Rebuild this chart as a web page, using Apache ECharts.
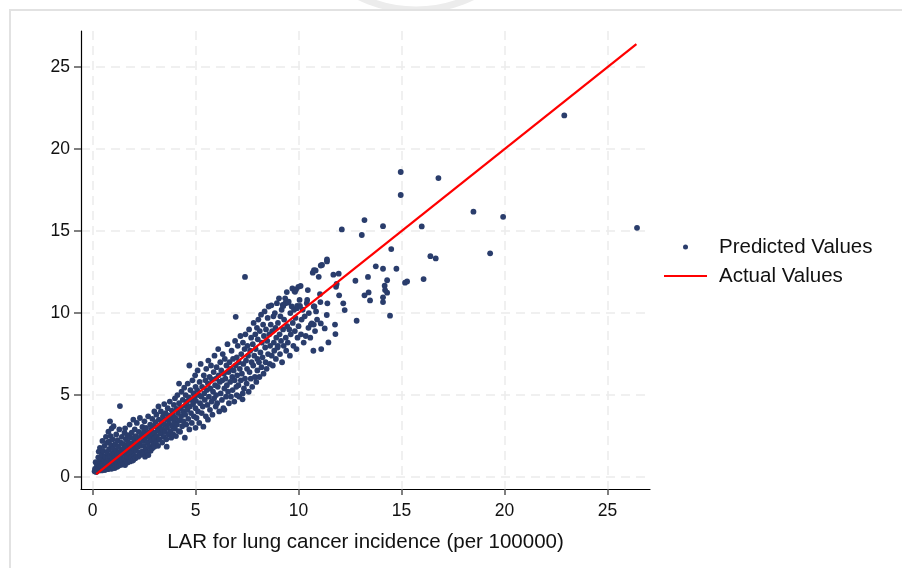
<!DOCTYPE html>
<html>
<head>
<meta charset="utf-8">
<script src="https://cdn.jsdelivr.net/npm/echarts@6/dist/echarts.min.js"></script>
<style>
html,body{margin:0;padding:0;background:#fff;}
#chart{width:902px;height:568px;}
</style>
</head>
<body>
<div id="chart"></div>
<script>
// ---- data ----
var xTickValues = [0, 5, 10, 15, 20, 25];
var yTickValues = [0, 5, 10, 15, 20, 25];
var xAxisTitle = 'LAR for lung cancer incidence (per 100000)';
var seriesNames = ['Predicted Values', 'Actual Values'];

// Predicted values: [actual LAR, predicted LAR]
var predicted0to2 = [
[0.1,0.35],[0.12,0.5],[0.15,0.9],[0.18,0.3],[0.2,0.62],[0.22,0.45],[0.25,0.75],[0.25,0.38],[0.28,1.2],[0.3,0.5],[0.3,1.55],[0.32,0.4],[0.35,0.7],[0.36,1.78],[0.38,0.95],[0.4,0.45],[0.4,1.1],[0.42,0.6],[0.45,1.35],[0.45,0.4],[0.48,2.2],[0.5,0.8],[0.5,0.48],[0.52,1.6],[0.55,0.55],[0.55,1.0],[0.58,1.9],[0.6,0.43],[0.6,0.7],[0.62,1.25],[0.65,2.45],[0.65,0.5],[0.68,0.9],[0.7,1.5],[0.7,0.6],[0.72,2.1],[0.75,0.48],[0.75,1.15],[0.77,2.76],[0.78,0.75],[0.8,1.7],[0.8,2.15],[0.82,0.55],[0.85,3.4],[0.85,1.3],[0.86,0.62],[0.88,2.5],[0.9,0.95],[0.9,1.95],[0.92,0.5],[0.93,2.97],[0.95,1.45],[0.96,0.7],[0.98,2.3],[1.0,0.58],[1.0,1.1],[1.0,1.75],
[1.02,3.1],[1.05,0.8],[1.05,1.4],[1.08,0.55],[1.1,2.0],[1.1,1.2],[1.12,0.65],[1.15,2.6],[1.15,1.6],[1.18,0.9],[1.2,1.35],[1.2,0.62],[1.22,2.25],[1.25,1.05],[1.25,1.85],[1.28,0.7],[1.3,2.9],[1.3,1.5],[1.33,4.33],[1.35,0.85],[1.35,1.2],[1.38,2.1],[1.4,0.75],[1.4,1.65],[1.42,2.45],[1.45,1.0],[1.48,1.4],[1.5,0.8],[1.5,2.0],[1.52,1.75],[1.55,2.7],[1.55,1.1],[1.58,2.97],[1.58,0.73],[1.6,1.5],[1.62,2.3],[1.65,0.95],[1.65,1.9],[1.68,1.25],[1.7,2.55],[1.7,0.88],[1.72,1.6],[1.75,2.1],[1.78,1.05],[1.8,1.4],[1.8,3.2],[1.82,0.95],[1.85,1.8],[1.85,2.4],[1.88,1.2],[1.9,2.7],[1.9,1.55],[1.92,1.0],[1.95,2.05],[1.98,1.04],[1.98,3.5],[2.0,1.7],[2.0,2.35]
];
var predicted2to5 = [
[2.02,1.3],[2.05,2.9],[2.05,1.95],[2.08,1.15],[2.1,2.5],[2.12,1.6],[2.15,3.3],[2.15,1.25],[2.18,2.2],[2.2,1.85],[2.22,1.24],[2.25,2.75],[2.25,2.05],[2.28,1.5],[2.3,3.6],[2.3,2.4],[2.32,1.35],[2.35,1.9],[2.38,2.6],[2.4,1.55],[2.42,3.05],[2.45,2.2],[2.48,1.4],[2.5,2.8],[2.5,1.9],[2.52,3.4],[2.55,1.24],[2.55,2.35],[2.58,1.7],[2.6,3.0],[2.62,2.55],[2.65,1.5],[2.68,2.1],[2.7,3.7],[2.71,1.34],[2.72,2.7],[2.75,1.85],[2.78,2.4],[2.8,3.2],[2.82,1.6],[2.85,2.9],[2.88,2.2],[2.9,1.75],[2.9,3.55],[2.92,2.6],[2.95,2.0],[2.98,3.1],[3.0,2.35],[3.0,1.85],[3.0,4.0],
[3.02,2.7],[3.05,3.35],[3.08,2.1],[3.1,3.8],[3.12,2.5],[3.15,3.0],[3.18,1.9],[3.2,4.3],[3.2,2.85],[3.22,3.5],[3.25,2.3],[3.28,3.15],[3.3,2.65],[3.32,4.0],[3.35,3.4],[3.38,2.1],[3.4,2.9],[3.42,3.7],[3.45,2.45],[3.48,4.45],[3.5,3.2],[3.52,2.75],[3.55,3.9],[3.58,2.3],[3.6,1.85],[3.6,3.5],[3.62,3.0],[3.65,4.2],[3.68,2.6],[3.7,3.75],[3.72,3.25],[3.75,4.6],[3.78,2.8],[3.8,3.55],[3.82,2.4],[3.85,4.05],[3.88,3.1],[3.9,3.8],[3.92,2.6],[3.95,4.4],[3.98,3.35],[4.0,2.95],[4.0,4.8],
[4.02,3.6],[4.05,2.5],[4.08,4.15],[4.1,3.2],[4.12,5.0],[4.15,3.9],[4.18,2.8],[4.2,4.5],[4.2,5.7],[4.22,3.45],[4.25,2.76],[4.28,4.2],[4.3,3.7],[4.32,5.2],[4.35,3.1],[4.38,4.7],[4.4,4.0],[4.42,3.4],[4.45,5.45],[4.48,2.4],[4.5,4.35],[4.5,3.8],[4.52,5.0],[4.55,3.2],[4.58,4.6],[4.6,4.1],[4.62,5.7],[4.65,3.55],[4.68,4.85],[4.7,6.8],[4.7,2.9],[4.72,4.3],[4.75,5.3],[4.78,3.9],[4.8,4.7],[4.82,3.3],[4.85,5.9],[4.88,4.45],[4.9,5.1],[4.92,3.7],[4.95,4.9],[4.98,6.2],[5.0,4.2],[5.0,3.0],[5.0,5.5]
];
var predicted5to8 = [
[5.02,4.65],[5.05,3.6],[5.08,5.3],[5.1,6.5],[5.12,4.0],[5.15,5.0],[5.18,3.3],[5.2,5.8],[5.22,4.5],[5.25,6.9],[5.28,4.9],[5.3,3.9],[5.32,5.5],[5.35,4.3],[5.38,3.07],[5.4,6.2],[5.42,5.1],[5.45,4.7],[5.48,5.9],[5.5,3.7],[5.52,6.6],[5.55,5.3],[5.58,4.4],[5.6,3.5],[5.6,5.7],[5.62,7.1],[5.65,4.9],[5.68,6.1],[5.7,4.1],[5.72,5.4],[5.75,6.8],[5.78,4.6],[5.8,5.95],[5.82,3.8],[5.85,5.2],[5.88,6.4],[5.9,4.8],[5.92,7.4],[5.95,5.6],[5.98,4.3],[6.0,6.0],[6.0,5.0],
[6.02,6.7],[6.05,4.5],[6.08,5.5],[6.1,7.8],[6.12,6.2],[6.15,4.0],[6.18,5.8],[6.2,7.0],[6.22,5.1],[6.25,6.5],[6.28,4.7],[6.3,5.9],[6.32,7.5],[6.35,4.2],[6.38,6.3],[6.4,4.1],[6.4,5.4],[6.42,7.2],[6.45,6.0],[6.48,4.9],[6.5,6.8],[6.52,5.6],[6.55,8.1],[6.58,5.2],[6.6,6.4],[6.62,4.5],[6.65,7.0],[6.68,5.8],[6.7,6.6],[6.72,4.9],[6.75,7.7],[6.78,6.1],[6.8,5.3],[6.82,7.2],[6.85,6.5],[6.88,4.6],[6.9,5.9],[6.92,8.3],[6.95,9.77],[6.95,6.8],[6.98,5.5],[7.0,5.0],[7.0,7.3],
[7.02,6.2],[7.05,8.0],[7.08,5.6],[7.1,7.0],[7.12,4.9],[7.15,6.6],[7.18,8.6],[7.2,5.9],[7.22,7.5],[7.25,6.3],[7.28,4.74],[7.29,5.1],[7.3,8.2],[7.32,6.9],[7.35,5.4],[7.38,7.8],[7.4,12.2],[7.4,6.0],[7.42,8.7],[7.45,7.1],[7.48,5.7],[7.5,6.6],[7.52,8.0],[7.55,7.4],[7.58,5.2],[7.6,9.0],[7.62,6.4],[7.65,7.7],[7.68,6.0],[7.7,8.5],[7.72,7.0],[7.75,5.5],[7.78,8.1],[7.8,6.8],[7.82,9.4],[7.85,7.4],[7.88,6.1],[7.9,8.7],[7.92,7.8],[7.95,5.8],[7.98,9.1],[8.0,7.2],[8.0,6.5]
];
var predicted8to11 = [
[8.02,8.4],[8.05,9.6],[8.08,7.0],[8.1,6.1],[8.12,8.9],[8.15,7.6],[8.18,9.9],[8.2,6.7],[8.22,8.2],[8.25,7.3],[8.28,9.3],[8.3,6.3],[8.32,8.6],[8.35,10.1],[8.38,7.9],[8.4,7.0],[8.42,9.0],[8.45,6.6],[8.48,8.3],[8.5,9.7],[8.52,7.5],[8.55,10.4],[8.58,8.7],[8.6,6.9],[8.62,8.0],[8.65,9.3],[8.68,10.47],[8.7,7.4],[8.72,8.9],[8.75,6.8],[8.78,9.8],[8.8,8.2],[8.82,7.7],[8.85,10.0],[8.88,9.1],[8.9,7.2],[8.92,8.5],[8.95,10.6],[8.98,7.9],[9.0,9.4],[9.0,8.0],
[9.05,10.9],[9.08,8.7],[9.1,7.5],[9.12,9.8],[9.15,8.3],[9.18,10.2],[9.2,7.0],[9.23,10.49],[9.25,9.0],[9.26,10.43],[9.28,8.0],[9.3,9.6],[9.35,10.9],[9.36,10.6],[9.38,8.5],[9.4,7.7],[9.43,11.28],[9.45,9.2],[9.48,8.2],[9.5,10.63],[9.52,10.7],[9.55,9.0],[9.58,7.4],[9.6,10.0],[9.62,8.7],[9.67,10.4],[9.7,11.5],[9.72,9.4],[9.75,8.0],[9.78,10.2],[9.8,11.34],[9.82,8.9],[9.83,11.3],[9.85,9.7],[9.88,11.44],[9.9,7.8],[9.92,10.3],[9.93,10.43],[9.95,8.5],[9.99,11.6],[10.0,9.2],
[10.05,10.8],[10.07,10.43],[10.1,11.65],[10.12,8.7],[10.15,9.6],[10.2,10.2],[10.25,8.2],[10.3,9.8],[10.35,8.6],[10.4,10.6],[10.42,10.8],[10.45,11.4],[10.48,9.1],[10.5,10.0],[10.57,8.5],[10.6,9.3],[10.64,9.37],[10.69,12.46],[10.72,7.7],[10.74,9.3],[10.74,10.4],[10.75,12.62],[10.77,10.4],[10.8,8.9],[10.83,12.6],[10.85,10.1],[10.9,9.6],[10.98,12.21],[11.04,11.16],[11.06,10.67],[11.08,9.37],[11.08,12.9],[11.1,7.8]
];
var predicted11plus = [
[11.14,12.93],[11.27,9.06],[11.37,9.88],[11.38,13.27],[11.38,13.15],[11.4,10.59],[11.45,8.21],[11.69,12.34],[11.77,9.3],[11.79,8.72],[11.82,11.6],[11.85,11.77],[11.95,12.4],[11.97,11.08],[12.1,15.1],[12.17,10.59],[12.24,10.18],[12.76,11.97],[12.82,9.53],[13.07,14.76],[13.2,15.67],[13.2,11.08],[13.37,12.2],[13.4,11.26],[13.47,10.77],[13.75,12.85],[14.1,12.7],[14.1,15.3],[14.1,10.96],[14.1,10.67],[14.18,11.67],[14.2,11.4],[14.3,12.0],[14.3,11.24],[14.44,9.84],[14.5,13.9],[14.75,12.7],[14.96,18.6],[14.96,17.2],[15.17,11.85],[15.27,11.93],[15.98,15.28],[16.07,12.07],[16.4,13.47],[16.66,13.33],[16.79,18.23],[18.49,16.18],[19.3,13.64],[19.93,15.87],[22.9,22.05],[26.43,15.2]
];
var predictedValues = [].concat(predicted0to2, predicted2to5, predicted5to8, predicted8to11, predicted11plus);

// Actual values line (y = x)
var actualX = [0.18, 26.4];
var actualY = [0.18, 26.4];
var actualValues = actualX.map(function (v, i) { return [v, actualY[i]]; });

var FONT = '"Liberation Sans", Arial, sans-serif';
var chart = echarts.init(document.getElementById('chart'), null, { renderer: 'canvas' });

var gridLine = { show: true, lineStyle: { color: '#ebebeb', width: 1.5, type: [9, 6] } };

chart.setOption({
  backgroundColor: '#ffffff',
  animation: false,
  graphic: [
    { type: 'circle', silent: true, z: -10, shape: { cx: 416, cy: -118, r: 128 }, style: { fill: 'none', stroke: '#ececec', lineWidth: 7 } },
    { type: 'rect', silent: true, z: -5, shape: { x: 10, y: 10, width: 900, height: 570 }, style: { fill: '#ffffff', stroke: '#e2e2e2', lineWidth: 2 } }
  ],
  grid: { left: 81, top: 31, width: 569, height: 458, containLabel: false },
  legend: {
    orient: 'vertical',
    left: 658,
    top: 231,
    itemWidth: 43,
    itemHeight: 5,
    itemGap: 7,
    textStyle: { fontFamily: FONT, fontSize: 20.5, color: '#111', lineHeight: 22, padding: [0, 0, 0, 7] },
    data: [
      { name: seriesNames[0], icon: 'circle' },
      { name: seriesNames[1], itemStyle: { color: 'rgba(0,0,0,0)', borderWidth: 0 } }
    ]
  },
  xAxis: {
    type: 'value',
    min: -0.56,
    max: 27.06,
    name: xAxisTitle,
    nameLocation: 'middle',
    nameGap: 43,
    nameTextStyle: { fontFamily: FONT, fontSize: 20.5, color: '#111' },
    axisLine: { show: true, onZero: false, lineStyle: { color: '#000', width: 1.2 } },
    axisTick: { show: true, length: 6, customValues: xTickValues, lineStyle: { color: '#555', width: 1.5 } },
    axisLabel: { customValues: xTickValues, margin: 13, fontFamily: FONT, fontSize: 17.5, color: '#111' },
    splitLine: gridLine
  },
  yAxis: {
    type: 'value',
    min: -0.73,
    max: 27.2,
    axisLine: { show: true, onZero: false, lineStyle: { color: '#000', width: 1.2 } },
    axisTick: { show: true, length: 7, customValues: yTickValues, lineStyle: { color: '#555', width: 1.5 } },
    axisLabel: { customValues: yTickValues, margin: 11, fontFamily: FONT, fontSize: 17.5, color: '#111' },
    splitLine: gridLine
  },
  series: [
    {
      name: seriesNames[0],
      type: 'scatter',
      data: predictedValues,
      symbol: 'circle',
      symbolSize: 5.8,
      itemStyle: { color: '#2a3d6c', opacity: 1 },
      z: 3
    },
    {
      name: seriesNames[1],
      type: 'line',
      data: actualValues,
      symbol: 'none',
      lineStyle: { color: '#ff0000', width: 2.2 },
      itemStyle: { color: '#ff0000' },
      z: 4
    }
  ]
});
</script>
</body>
</html>
